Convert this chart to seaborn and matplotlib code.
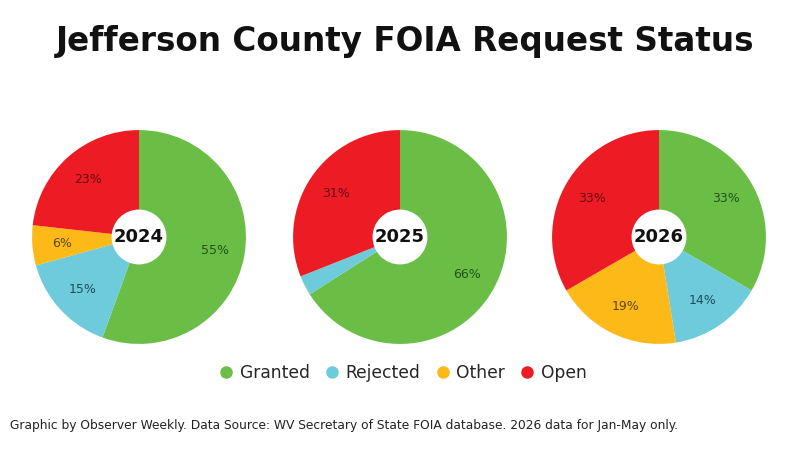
import matplotlib
matplotlib.use("Agg")
import matplotlib.pyplot as plt
from matplotlib.lines import Line2D
import numpy as np
import seaborn as sns

years = ["2024", "2025", "2026"]
statuses = ["Granted", "Rejected", "Other", "Open"]
granted = [55, 66, 33]
rejected = [15, 3, 14]
other = [6, 0, 19]
opened = [23, 31, 33]

colors = sns.color_palette(["#6abd45", "#6dcbdc", "#fcb918", "#ed1c24"])
text_colors = ["#24531a", "#1e4f5a", "#5e4506", "#640b0f"]

sns.set_theme(style="white")
plt.rcParams["font.family"] = ["DejaVu Sans"]

fig = plt.figure(figsize=(8, 4.5), dpi=100)
W, H = 800, 450
centers_x = [139, 400, 659]
cy = 237
r = 108

for i, year in enumerate(years):
    vals = [granted[i], rejected[i], other[i], opened[i]]
    cx = centers_x[i]
    ax = fig.add_axes([(cx - r) / W, 1 - (cy + r) / H, 2 * r / W, 2 * r / H])
    ax.pie(vals, colors=colors, startangle=90, counterclock=False,
           radius=1, wedgeprops=dict(linewidth=0))
    # percent labels from the raw values
    total = sum(vals)
    ang = 90
    for v, tc in zip(vals, text_colors):
        if v == 0:
            continue
        sweep = 360 * v / total
        mid = np.deg2rad(ang - sweep / 2)
        ang -= sweep
        if v >= 5:
            ax.text(0.72 * np.cos(mid), 0.72 * np.sin(mid), f"{v}%",
                    ha="center", va="center", fontsize=9, color=tc)
    ax.add_patch(plt.Circle((0, 0), 0.25, color="white", zorder=5))
    ax.text(0, 0, year, ha="center", va="center", fontsize=13,
            fontweight="bold", color="#111111", zorder=6)
    ax.set_xlim(-1.01, 1.01)
    ax.set_ylim(-1.01, 1.01)

fig.text(0.506, 1 - 42 / H, "Jefferson County FOIA Request Status",
         ha="center", va="center", fontsize=23.5, fontweight="bold", color="#111111")

handles = [Line2D([0], [0], marker="o", linestyle="", markersize=8,
                  markerfacecolor=c, markeredgecolor=c) for c in colors]
fig.legend(handles, statuses, loc="center", bbox_to_anchor=(0.504, 1 - 373 / H),
           ncol=4, frameon=False, handlelength=0.8, handletextpad=0.4,
           columnspacing=0.9,
           prop={"family": ["DejaVu Sans Condensed", "Liberation Sans Narrow", "DejaVu Sans"],
                 "size": 12.3})

fig.text(0.012, 1 - 425 / H,
         "Graphic by Observer Weekly. Data Source: WV Secretary of State FOIA database. 2026 data for Jan-May only.",
         ha="left", va="center", fontsize=8.8, color="#222222",
         family=["DejaVu Sans Condensed", "DejaVu Sans"])

fig.savefig("out.png", dpi=100)
